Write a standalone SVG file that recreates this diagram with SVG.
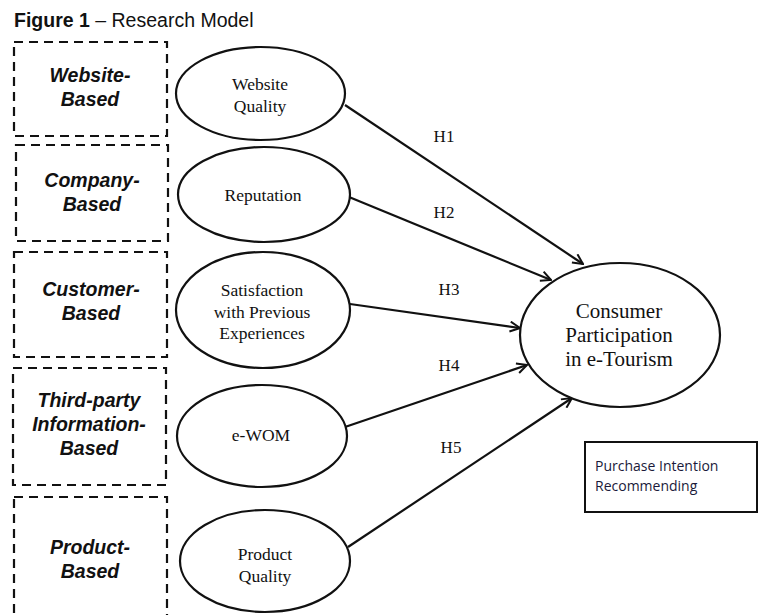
<svg xmlns="http://www.w3.org/2000/svg" width="760" height="615" viewBox="0 0 760 615">
<style>
.dash{fill:none;stroke:#111;stroke-width:2.2;stroke-dasharray:9 6}
.cat{font-family:"Liberation Sans",Arial,sans-serif;font-weight:bold;font-style:italic;font-size:19.5px;fill:#111;text-anchor:middle}
.ell{fill:#fff;stroke:#111;stroke-width:2.2}
.lbl{font-family:"Liberation Serif","Times New Roman",serif;font-size:17.5px;fill:#111;text-anchor:middle}
.big{font-family:"Liberation Serif","Times New Roman",serif;font-size:21px;fill:#111;text-anchor:middle}
.h{font-family:"Liberation Serif","Times New Roman",serif;font-size:17px;fill:#111;text-anchor:middle}
.conn line{stroke:#111;stroke-width:2.2;fill:none}
.out{font-family:"Open Sans","Noto Sans",sans-serif;font-size:14px;fill:#1a1a3a}
</style>
<defs>
<marker id="arr" viewBox="0 0 12 12" refX="11" refY="6" markerWidth="12" markerHeight="12" markerUnits="userSpaceOnUse" orient="auto">
<path d="M1,1 L11,6 L1,11" fill="none" stroke="#111" stroke-width="2"/>
</marker>
</defs>
<rect width="760" height="615" fill="#fff"/>
<text x="14" y="27" font-family="Liberation Sans,Arial,sans-serif" font-size="19.5" fill="#111"><tspan font-weight="bold">Figure 1</tspan> – Research Model</text>

<g id="cat-website"><rect class="dash" x="14" y="42" width="153" height="94"/><text class="cat" x="90" y="82">Website-</text><text class="cat" x="90" y="106">Based</text></g>
<g id="cat-company"><rect class="dash" x="16" y="145" width="152" height="96"/><text class="cat" x="92" y="187">Company-</text><text class="cat" x="92" y="211">Based</text></g>
<g id="cat-customer"><rect class="dash" x="14" y="252" width="153" height="105"/><text class="cat" x="91" y="296">Customer-</text><text class="cat" x="91" y="320">Based</text></g>
<g id="cat-third"><rect class="dash" x="13" y="368" width="153" height="117"/><text class="cat" x="89" y="407">Third-party</text><text class="cat" x="89" y="431">Information-</text><text class="cat" x="89" y="455">Based</text></g>
<g id="cat-product"><rect class="dash" x="14" y="497" width="153" height="130"/><text class="cat" x="90" y="554">Product-</text><text class="cat" x="90" y="578">Based</text></g>

<g class="conn" id="connectors">
<line x1="345" y1="105" x2="583" y2="264" marker-end="url(#arr)"/>
<line x1="349" y1="197" x2="551" y2="280" marker-end="url(#arr)"/>
<line x1="350" y1="304" x2="520" y2="328" marker-end="url(#arr)"/>
<line x1="345" y1="427" x2="527" y2="365" marker-end="url(#arr)"/>
<line x1="348" y1="547" x2="572" y2="398" marker-end="url(#arr)"/>
<text class="h" x="444" y="142">H1</text>
<text class="h" x="444" y="218">H2</text>
<text class="h" x="449" y="295">H3</text>
<text class="h" x="449" y="371">H4</text>
<text class="h" x="451" y="453">H5</text>
</g>

<g id="n-website"><ellipse class="ell" cx="260.5" cy="93.5" rx="84.5" ry="46.5"/><text class="lbl" x="260" y="90">Website</text><text class="lbl" x="260" y="112">Quality</text></g>
<g id="n-reputation"><ellipse class="ell" cx="264" cy="194.5" rx="86" ry="47.5"/><text class="lbl" x="263" y="201">Reputation</text></g>
<g id="n-satisfaction"><ellipse class="ell" cx="263" cy="310" rx="87" ry="58"/><text class="lbl" x="262" y="296">Satisfaction</text><text class="lbl" x="262" y="318">with Previous</text><text class="lbl" x="262" y="339">Experiences</text></g>
<g id="n-ewom"><ellipse class="ell" cx="262" cy="436" rx="85" ry="51"/><text class="lbl" x="261" y="441">e-WOM</text></g>
<g id="n-product"><ellipse class="ell" cx="265" cy="561" rx="85" ry="51"/><text class="lbl" x="265" y="560">Product</text><text class="lbl" x="265" y="582">Quality</text></g>
<g id="n-consumer"><ellipse class="ell" cx="620" cy="335" rx="100" ry="72"/><text class="big" x="619" y="318">Consumer</text><text class="big" x="619" y="342">Participation</text><text class="big" x="619" y="366">in e-Tourism</text></g>

<g id="n-outcomes"><rect x="585" y="442" width="172" height="70" fill="#fff" stroke="#111" stroke-width="2"/><text class="out" x="595" y="471">Purchase Intention</text><text class="out" x="595" y="491">Recommending</text></g>
</svg>
